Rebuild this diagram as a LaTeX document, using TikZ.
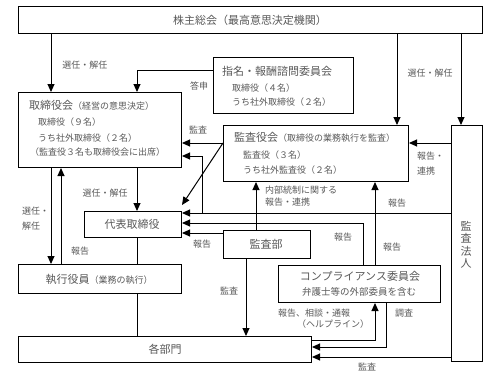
\documentclass[tikz,border=0pt]{standalone}
\usepackage{fontspec}
\setmainfont{Noto Sans CJK JP}
\usetikzlibrary{arrows.meta}
\begin{document}
\begin{tikzpicture}[x=1pt,y=-1pt,
  box/.style={draw, line width=1pt, fill=white, inner sep=0pt, anchor=north west},
  txt/.style={text=black!65, inner sep=0pt, font=\fontsize{9}{11}\selectfont},
  big/.style={text=black!65, inner sep=0pt, font=\fontsize{11}{12}\selectfont},
  conn/.style={line width=1pt},
  arr/.style={line width=1pt, -{Triangle[length=8pt,width=7pt]}},
]
\useasboundingbox (0,0) rectangle (499,383);
\newcommand{\smalltxt}{\fontsize{9}{11}\selectfont}
% boxes
\node[box, minimum width=464pt, minimum height=27pt] (sh) at (18,6) {};
\node[box, minimum width=140pt, minimum height=56pt] (nom) at (213,57) {};
\node[box, minimum width=163pt, minimum height=75pt] (tb) at (18,92) {};
\node[box, minimum width=185pt, minimum height=56pt] (ka) at (223,125) {};
\node[box, minimum width=31pt, minimum height=236pt] (ho) at (451,125) {};
\node[box, minimum width=97pt, minimum height=26pt] (dai) at (84,211) {};
\node[box, minimum width=87pt, minimum height=28pt] (kb) at (223,230) {};
\node[box, minimum width=162pt, minimum height=37pt] (comp) at (278,265) {};
\node[box, minimum width=163pt, minimum height=29pt] (shk) at (18,264) {};
\node[box, minimum width=293pt, minimum height=26pt] (bm) at (18,336) {};
\coordinate (j1) at (202,213);
% connectors
\draw[arr] (sh.south -| 51,0) -- (tb.north -| 51,0);
\draw[arr] (sh.south -| 397,0) -- (ka.north -| 397,0);
\draw[arr] (sh.south -| 461,0) -- (ho.north -| 461,0);
\draw[arr] (nom.west |- 0,70) -| (tb.north -| 137,0);
\draw[arr] (ka.west |- 0,143) -- (tb.east |- 0,143);
\draw[arr] (ka.west |- 0,143) -- (dai.east |- 0,205);
\draw[arr] (ho.west |- 0,143) -- (ka.east |- 0,143);
\draw[arr] (ho.west |- 0,213) -- (dai.east |- 0,213);
\draw[arr] (j1) |- (tb.east |- 0,156);
\draw[arr] (comp.north -| 363,0) |- (dai.east |- 0,223);
\draw[arr] (comp.north -| 375,0) -- (ka.south -| 375,0);
\draw[arr] (kb.north -| 256,0) -- (ka.south -| 256,0);
\draw[arr] (kb.west |- 0,233) -- (dai.east |- 0,233);
\draw[arr] (kb.south -| 246,0) -- (bm.north -| 246,0);
\draw[arr] (tb.south -| 137,0) -- (dai.north -| 137,0);
\draw[arr] (tb.south -| 51,0) -- (shk.north -| 51,0);
\draw[arr] (shk.north -| 61,0) -- (tb.south -| 61,0);
\draw[conn] (dai.south -| 137,0) -- (shk.north -| 137,0);
\draw[conn] (shk.south -| 137,0) -- (bm.north -| 137,0);
\draw[arr] (bm.east |- 0,340) -| (comp.south -| 375,0);
\draw[arr] (comp.south -| 386,0) |- (bm.east |- 0,347);
\draw[arr] (ho.west |- 0,357) -- (bm.east |- 0,357);
% box texts
\node[big] (tsh) at (250,20) {株主総会（最高意思決定機関）};
\node[big, anchor=west] (tnom) at (222,71) {指名・報酬諮問委員会};
\node[txt, anchor=west] (tnom1) at (232,88) {取締役（４名）};
\node[txt, anchor=west] (tnom2) at (232,102) {うち社外取締役（２名）};
\node[big, anchor=west] (ttb) at (29,105) {取締役会{\smalltxt（経営の意思決定）}};
\node[txt, anchor=west] (ttb1) at (38,122) {取締役（９名）};
\node[txt, anchor=west] (ttb2) at (38,138) {うち社外取締役（２名）};
\node[txt, anchor=west] (ttb3) at (30,152) {（監査役３名も取締役会に出席）};
\node[big, anchor=west] (tka) at (234,137) {監査役会{\smalltxt（取締役の業務執行を監査）}};
\node[txt, anchor=west] (tka1) at (243,155) {監査役（３名）};
\node[txt, anchor=west] (tka2) at (243,170) {うち社外監査役（２名）};
\node[big] (tdai) at (132,224) {代表取締役};
\node[big] (tkb) at (266,244) {監査部};
\node[big] (tcomp) at (360,276) {コンプライアンス委員会};
\node[txt, font=\fontsize{9.5}{11}\selectfont] (tcomp2) at (359,292) {弁護士等の外部委員を含む};
\node[big] (tshk) at (99,279) {執行役員{\smalltxt（業務の執行）}};
\node[big] (tbm) at (165,349) {各部門};
\node[big, align=center, font=\fontsize{11}{12.5}\selectfont] (tho) at (466,245) {監\\査\\法\\人};
% labels
\node[txt] (l1) at (85,65) {選任・解任};
\node[txt] (l2) at (430,73) {選任・解任};
\node[txt] (l3) at (199,86) {答申};
\node[txt] (l4) at (198,130) {監査};
\node[txt, align=left, anchor=north west, font=\fontsize{9}{15}\selectfont] (l5) at (417,152) {報告・\\連携};
\node[txt] (l6) at (397,203) {報告};
\node[txt, align=left, anchor=north west, font=\fontsize{9}{12}\selectfont] (l7) at (265,186) {内部統制に関する\\報告・連携};
\node[txt] (l8) at (343,237) {報告};
\node[txt] (l9) at (392,247) {報告};
\node[txt] (l10) at (202,244) {報告};
\node[txt] (l11) at (105,193) {選任・解任};
\node[txt, align=left, anchor=north west, font=\fontsize{9}{15}\selectfont] (l12) at (22,207) {選任・\\解任};
\node[txt] (l13) at (80,251) {報告};
\node[txt] (l14) at (229,291) {監査};
\node[txt] (l15) at (314,313) {報告、相談・通報};
\node[txt] (l16) at (333,324) {（ヘルプライン）};
\node[txt] (l17) at (404,313) {調査};
\node[txt] (l18) at (367,367) {監査};
\end{tikzpicture}
\end{document}
